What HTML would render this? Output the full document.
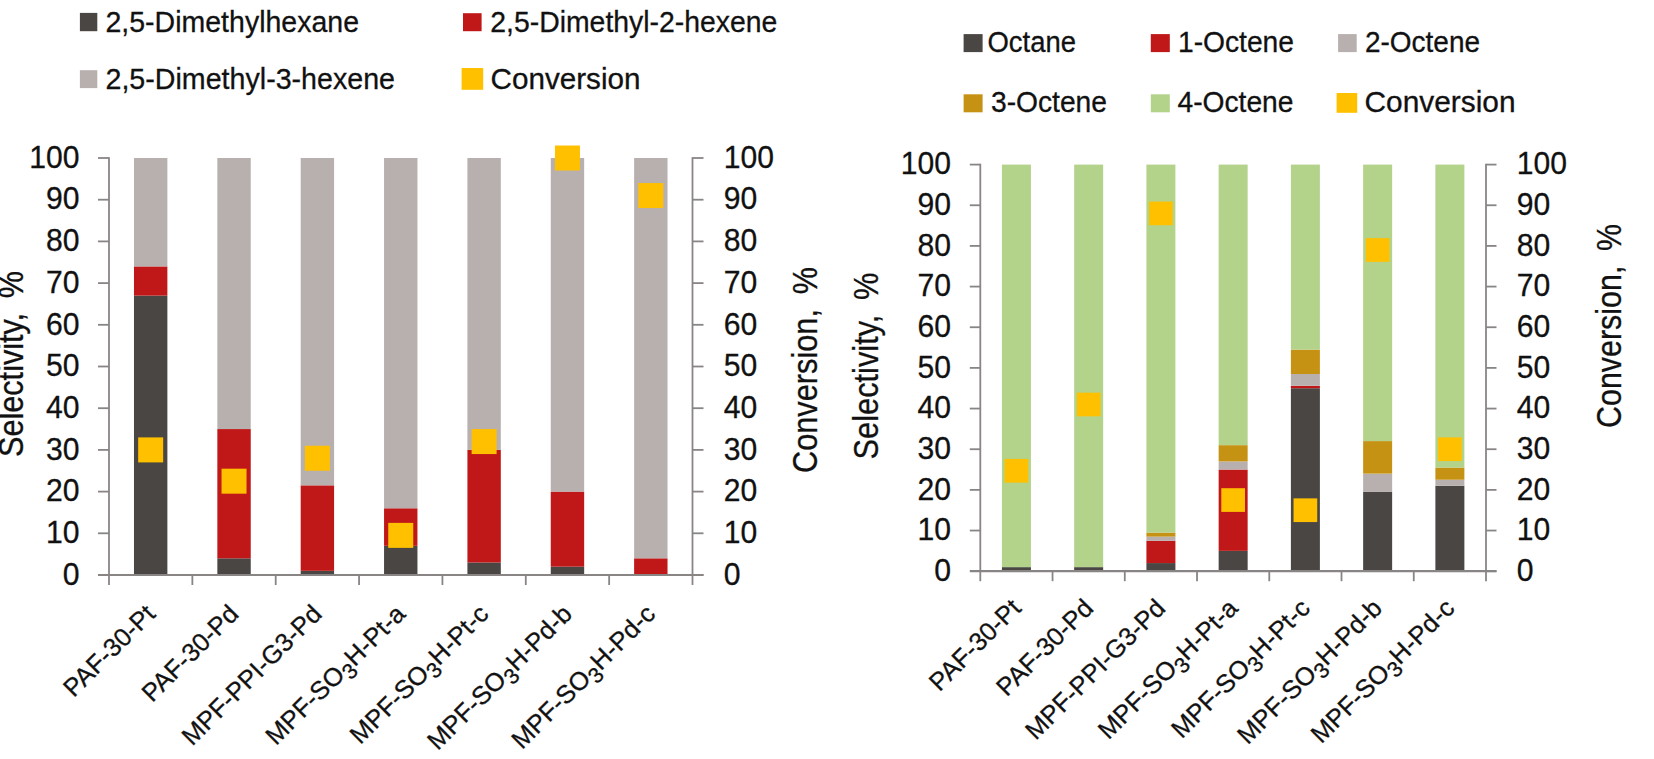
<!DOCTYPE html>
<html><head><meta charset="utf-8"><title>Selectivity and conversion charts</title>
<style>
html,body{margin:0;padding:0;background:#fff;}
body{width:1654px;height:759px;overflow:hidden;}
svg{display:block;font-family:"Liberation Sans", sans-serif;fill:#111;}
text{stroke:#111;stroke-width:0.3px;}
</style></head><body>
<svg width="1654" height="759" viewBox="0 0 1654 759">
<rect x="0" y="0" width="1654" height="759" fill="#ffffff"/>
<rect x="133.98" y="295.61" width="33.40" height="279.39" fill="#4a4644"/>
<rect x="133.98" y="266.42" width="33.40" height="29.19" fill="#c01818"/>
<rect x="133.98" y="158.00" width="33.40" height="108.42" fill="#b8b0ae"/>
<rect x="217.34" y="558.32" width="33.40" height="16.68" fill="#4a4644"/>
<rect x="217.34" y="429.05" width="33.40" height="129.27" fill="#c01818"/>
<rect x="217.34" y="158.00" width="33.40" height="271.05" fill="#b8b0ae"/>
<rect x="300.69" y="570.83" width="33.40" height="4.17" fill="#4a4644"/>
<rect x="300.69" y="485.35" width="33.40" height="85.48" fill="#c01818"/>
<rect x="300.69" y="158.00" width="33.40" height="327.34" fill="#b8b0ae"/>
<rect x="384.05" y="545.81" width="33.40" height="29.19" fill="#4a4644"/>
<rect x="384.05" y="508.28" width="33.40" height="37.53" fill="#c01818"/>
<rect x="384.05" y="158.00" width="33.40" height="350.28" fill="#b8b0ae"/>
<rect x="467.41" y="562.49" width="33.40" height="12.51" fill="#4a4644"/>
<rect x="467.41" y="449.90" width="33.40" height="112.59" fill="#c01818"/>
<rect x="467.41" y="158.00" width="33.40" height="291.90" fill="#b8b0ae"/>
<rect x="550.76" y="566.66" width="33.40" height="8.34" fill="#4a4644"/>
<rect x="550.76" y="491.60" width="33.40" height="75.06" fill="#c01818"/>
<rect x="550.76" y="158.00" width="33.40" height="333.60" fill="#b8b0ae"/>
<rect x="634.12" y="558.32" width="33.40" height="16.68" fill="#c01818"/>
<rect x="634.12" y="158.00" width="33.40" height="400.32" fill="#b8b0ae"/>
<line x1="109.00" y1="157.20" x2="109.00" y2="575.80" stroke="#898584" stroke-width="1.8"/>
<line x1="692.50" y1="157.20" x2="692.50" y2="575.80" stroke="#898584" stroke-width="1.8"/>
<line x1="98.00" y1="575.00" x2="703.50" y2="575.00" stroke="#898584" stroke-width="2.2"/>
<line x1="692.50" y1="575.00" x2="703.50" y2="575.00" stroke="#898584" stroke-width="1.8"/>
<text x="79.5" y="584.7" font-size="31.5" text-anchor="end" textLength="16.8" lengthAdjust="spacingAndGlyphs">0</text>
<text x="723.8" y="584.7" font-size="31.5" text-anchor="start" textLength="16.8" lengthAdjust="spacingAndGlyphs">0</text>
<line x1="98.00" y1="533.30" x2="109.00" y2="533.30" stroke="#898584" stroke-width="1.8"/>
<line x1="692.50" y1="533.30" x2="703.50" y2="533.30" stroke="#898584" stroke-width="1.8"/>
<text x="79.5" y="543.0" font-size="31.5" text-anchor="end" textLength="33.5" lengthAdjust="spacingAndGlyphs">10</text>
<text x="723.8" y="543.0" font-size="31.5" text-anchor="start" textLength="33.5" lengthAdjust="spacingAndGlyphs">10</text>
<line x1="98.00" y1="491.60" x2="109.00" y2="491.60" stroke="#898584" stroke-width="1.8"/>
<line x1="692.50" y1="491.60" x2="703.50" y2="491.60" stroke="#898584" stroke-width="1.8"/>
<text x="79.5" y="501.3" font-size="31.5" text-anchor="end" textLength="33.5" lengthAdjust="spacingAndGlyphs">20</text>
<text x="723.8" y="501.3" font-size="31.5" text-anchor="start" textLength="33.5" lengthAdjust="spacingAndGlyphs">20</text>
<line x1="98.00" y1="449.90" x2="109.00" y2="449.90" stroke="#898584" stroke-width="1.8"/>
<line x1="692.50" y1="449.90" x2="703.50" y2="449.90" stroke="#898584" stroke-width="1.8"/>
<text x="79.5" y="459.59999999999997" font-size="31.5" text-anchor="end" textLength="33.5" lengthAdjust="spacingAndGlyphs">30</text>
<text x="723.8" y="459.59999999999997" font-size="31.5" text-anchor="start" textLength="33.5" lengthAdjust="spacingAndGlyphs">30</text>
<line x1="98.00" y1="408.20" x2="109.00" y2="408.20" stroke="#898584" stroke-width="1.8"/>
<line x1="692.50" y1="408.20" x2="703.50" y2="408.20" stroke="#898584" stroke-width="1.8"/>
<text x="79.5" y="417.9" font-size="31.5" text-anchor="end" textLength="33.5" lengthAdjust="spacingAndGlyphs">40</text>
<text x="723.8" y="417.9" font-size="31.5" text-anchor="start" textLength="33.5" lengthAdjust="spacingAndGlyphs">40</text>
<line x1="98.00" y1="366.50" x2="109.00" y2="366.50" stroke="#898584" stroke-width="1.8"/>
<line x1="692.50" y1="366.50" x2="703.50" y2="366.50" stroke="#898584" stroke-width="1.8"/>
<text x="79.5" y="376.2" font-size="31.5" text-anchor="end" textLength="33.5" lengthAdjust="spacingAndGlyphs">50</text>
<text x="723.8" y="376.2" font-size="31.5" text-anchor="start" textLength="33.5" lengthAdjust="spacingAndGlyphs">50</text>
<line x1="98.00" y1="324.80" x2="109.00" y2="324.80" stroke="#898584" stroke-width="1.8"/>
<line x1="692.50" y1="324.80" x2="703.50" y2="324.80" stroke="#898584" stroke-width="1.8"/>
<text x="79.5" y="334.5" font-size="31.5" text-anchor="end" textLength="33.5" lengthAdjust="spacingAndGlyphs">60</text>
<text x="723.8" y="334.5" font-size="31.5" text-anchor="start" textLength="33.5" lengthAdjust="spacingAndGlyphs">60</text>
<line x1="98.00" y1="283.10" x2="109.00" y2="283.10" stroke="#898584" stroke-width="1.8"/>
<line x1="692.50" y1="283.10" x2="703.50" y2="283.10" stroke="#898584" stroke-width="1.8"/>
<text x="79.5" y="292.8" font-size="31.5" text-anchor="end" textLength="33.5" lengthAdjust="spacingAndGlyphs">70</text>
<text x="723.8" y="292.8" font-size="31.5" text-anchor="start" textLength="33.5" lengthAdjust="spacingAndGlyphs">70</text>
<line x1="98.00" y1="241.40" x2="109.00" y2="241.40" stroke="#898584" stroke-width="1.8"/>
<line x1="692.50" y1="241.40" x2="703.50" y2="241.40" stroke="#898584" stroke-width="1.8"/>
<text x="79.5" y="251.1" font-size="31.5" text-anchor="end" textLength="33.5" lengthAdjust="spacingAndGlyphs">80</text>
<text x="723.8" y="251.1" font-size="31.5" text-anchor="start" textLength="33.5" lengthAdjust="spacingAndGlyphs">80</text>
<line x1="98.00" y1="199.70" x2="109.00" y2="199.70" stroke="#898584" stroke-width="1.8"/>
<line x1="692.50" y1="199.70" x2="703.50" y2="199.70" stroke="#898584" stroke-width="1.8"/>
<text x="79.5" y="209.39999999999998" font-size="31.5" text-anchor="end" textLength="33.5" lengthAdjust="spacingAndGlyphs">90</text>
<text x="723.8" y="209.39999999999998" font-size="31.5" text-anchor="start" textLength="33.5" lengthAdjust="spacingAndGlyphs">90</text>
<line x1="98.00" y1="158.00" x2="109.00" y2="158.00" stroke="#898584" stroke-width="1.8"/>
<line x1="692.50" y1="158.00" x2="703.50" y2="158.00" stroke="#898584" stroke-width="1.8"/>
<text x="79.5" y="167.7" font-size="31.5" text-anchor="end" textLength="50.2" lengthAdjust="spacingAndGlyphs">100</text>
<text x="723.8" y="167.7" font-size="31.5" text-anchor="start" textLength="50.2" lengthAdjust="spacingAndGlyphs">100</text>
<line x1="109.00" y1="575.00" x2="109.00" y2="585.00" stroke="#898584" stroke-width="1.8"/>
<line x1="192.36" y1="575.00" x2="192.36" y2="585.00" stroke="#898584" stroke-width="1.8"/>
<line x1="275.71" y1="575.00" x2="275.71" y2="585.00" stroke="#898584" stroke-width="1.8"/>
<line x1="359.07" y1="575.00" x2="359.07" y2="585.00" stroke="#898584" stroke-width="1.8"/>
<line x1="442.43" y1="575.00" x2="442.43" y2="585.00" stroke="#898584" stroke-width="1.8"/>
<line x1="525.79" y1="575.00" x2="525.79" y2="585.00" stroke="#898584" stroke-width="1.8"/>
<line x1="609.14" y1="575.00" x2="609.14" y2="585.00" stroke="#898584" stroke-width="1.8"/>
<line x1="692.50" y1="575.00" x2="692.50" y2="585.00" stroke="#898584" stroke-width="1.8"/>
<rect x="138.18" y="437.40" width="25.00" height="25.00" fill="#ffc000"/>
<rect x="221.54" y="468.68" width="25.00" height="25.00" fill="#ffc000"/>
<rect x="304.89" y="445.74" width="25.00" height="25.00" fill="#ffc000"/>
<rect x="388.25" y="522.88" width="25.00" height="25.00" fill="#ffc000"/>
<rect x="471.61" y="429.06" width="25.00" height="25.00" fill="#ffc000"/>
<rect x="554.96" y="145.50" width="25.00" height="25.00" fill="#ffc000"/>
<rect x="638.32" y="183.03" width="25.00" height="25.00" fill="#ffc000"/>
<text transform="translate(156.7,615.5) rotate(-45)" font-size="25.5" text-anchor="end">PAF-30-Pt</text>
<text transform="translate(240.0,615.5) rotate(-45)" font-size="25.5" text-anchor="end">PAF-30-Pd</text>
<text transform="translate(323.4,615.5) rotate(-45)" font-size="25.5" text-anchor="end">MPF-PPI-G3-Pd</text>
<text transform="translate(406.8,615.5) rotate(-45)" font-size="25.5" text-anchor="end">MPF-SO<tspan font-size="21.7" dy="6.4">3</tspan><tspan dy="-6.4">H-Pt-a</tspan></text>
<text transform="translate(490.1,615.5) rotate(-45)" font-size="25.5" text-anchor="end">MPF-SO<tspan font-size="21.7" dy="6.4">3</tspan><tspan dy="-6.4">H-Pt-c</tspan></text>
<text transform="translate(573.5,615.5) rotate(-45)" font-size="25.5" text-anchor="end">MPF-SO<tspan font-size="21.7" dy="6.4">3</tspan><tspan dy="-6.4">H-Pd-b</tspan></text>
<text transform="translate(656.8,615.5) rotate(-45)" font-size="25.5" text-anchor="end">MPF-SO<tspan font-size="21.7" dy="6.4">3</tspan><tspan dy="-6.4">H-Pd-c</tspan></text>
<rect x="79.90" y="12.90" width="17.40" height="18.30" fill="#4a4644"/>
<text x="105.5" y="32" font-size="29.5" text-anchor="start" textLength="253.5" lengthAdjust="spacingAndGlyphs">2,5-Dimethylhexane</text>
<rect x="463.00" y="13.20" width="18.60" height="18.00" fill="#c01818"/>
<text x="490.3" y="32" font-size="29.5" text-anchor="start" textLength="287.0" lengthAdjust="spacingAndGlyphs">2,5-Dimethyl-2-hexene</text>
<rect x="79.90" y="70.20" width="17.40" height="17.90" fill="#b8b0ae"/>
<text x="105.5" y="89" font-size="29.5" text-anchor="start" textLength="289.5" lengthAdjust="spacingAndGlyphs">2,5-Dimethyl-3-hexene</text>
<rect x="461.60" y="68.00" width="21.60" height="21.80" fill="#ffc000"/>
<text x="490.5" y="89" font-size="29.5" text-anchor="start" textLength="150.0" lengthAdjust="spacingAndGlyphs">Conversion</text>
<text transform="translate(22.7,457) rotate(-90)" font-size="34.5" textLength="186" lengthAdjust="spacingAndGlyphs">Selectivity,&#160;&#8201;%</text>
<text transform="translate(816.7,473) rotate(-90)" font-size="34.5" textLength="206" lengthAdjust="spacingAndGlyphs">Conversion,&#160;&#8201;%</text>
<rect x="1001.92" y="567.13" width="29.00" height="4.07" fill="#4a4644"/>
<rect x="1001.92" y="164.60" width="29.00" height="402.53" fill="#b3d38a"/>
<rect x="1074.16" y="567.13" width="29.00" height="4.07" fill="#4a4644"/>
<rect x="1074.16" y="164.60" width="29.00" height="402.53" fill="#b3d38a"/>
<rect x="1146.41" y="563.07" width="29.00" height="8.13" fill="#4a4644"/>
<rect x="1146.41" y="540.71" width="29.00" height="22.36" fill="#c01818"/>
<rect x="1146.41" y="536.64" width="29.00" height="4.07" fill="#b8b0ae"/>
<rect x="1146.41" y="532.57" width="29.00" height="4.07" fill="#c69214"/>
<rect x="1146.41" y="164.60" width="29.00" height="367.97" fill="#b3d38a"/>
<rect x="1218.65" y="550.87" width="29.00" height="20.33" fill="#4a4644"/>
<rect x="1218.65" y="469.55" width="29.00" height="81.32" fill="#c01818"/>
<rect x="1218.65" y="461.42" width="29.00" height="8.13" fill="#b8b0ae"/>
<rect x="1218.65" y="445.15" width="29.00" height="16.26" fill="#c69214"/>
<rect x="1218.65" y="164.60" width="29.00" height="280.55" fill="#b3d38a"/>
<rect x="1290.89" y="388.23" width="29.00" height="182.97" fill="#4a4644"/>
<rect x="1290.89" y="385.79" width="29.00" height="2.44" fill="#c01818"/>
<rect x="1290.89" y="374.00" width="29.00" height="11.79" fill="#b8b0ae"/>
<rect x="1290.89" y="349.60" width="29.00" height="24.40" fill="#c69214"/>
<rect x="1290.89" y="164.60" width="29.00" height="185.00" fill="#b3d38a"/>
<rect x="1363.14" y="491.91" width="29.00" height="79.29" fill="#4a4644"/>
<rect x="1363.14" y="473.62" width="29.00" height="18.30" fill="#b8b0ae"/>
<rect x="1363.14" y="441.09" width="29.00" height="32.53" fill="#c69214"/>
<rect x="1363.14" y="164.60" width="29.00" height="276.49" fill="#b3d38a"/>
<rect x="1435.38" y="485.81" width="29.00" height="85.39" fill="#4a4644"/>
<rect x="1435.38" y="479.72" width="29.00" height="6.10" fill="#b8b0ae"/>
<rect x="1435.38" y="467.52" width="29.00" height="12.20" fill="#c69214"/>
<rect x="1435.38" y="164.60" width="29.00" height="302.92" fill="#b3d38a"/>
<line x1="980.30" y1="163.80" x2="980.30" y2="572.00" stroke="#898584" stroke-width="1.8"/>
<line x1="1486.00" y1="163.80" x2="1486.00" y2="572.00" stroke="#898584" stroke-width="1.8"/>
<line x1="969.80" y1="571.20" x2="1496.50" y2="571.20" stroke="#898584" stroke-width="2.2"/>
<line x1="1486.00" y1="571.20" x2="1496.50" y2="571.20" stroke="#898584" stroke-width="1.8"/>
<text x="951" y="580.9" font-size="31.5" text-anchor="end" textLength="16.8" lengthAdjust="spacingAndGlyphs">0</text>
<text x="1516.8" y="580.9" font-size="31.5" text-anchor="start" textLength="16.8" lengthAdjust="spacingAndGlyphs">0</text>
<line x1="969.80" y1="530.54" x2="980.30" y2="530.54" stroke="#898584" stroke-width="1.8"/>
<line x1="1486.00" y1="530.54" x2="1496.50" y2="530.54" stroke="#898584" stroke-width="1.8"/>
<text x="951" y="540.24" font-size="31.5" text-anchor="end" textLength="33.5" lengthAdjust="spacingAndGlyphs">10</text>
<text x="1516.8" y="540.24" font-size="31.5" text-anchor="start" textLength="33.5" lengthAdjust="spacingAndGlyphs">10</text>
<line x1="969.80" y1="489.88" x2="980.30" y2="489.88" stroke="#898584" stroke-width="1.8"/>
<line x1="1486.00" y1="489.88" x2="1496.50" y2="489.88" stroke="#898584" stroke-width="1.8"/>
<text x="951" y="499.58" font-size="31.5" text-anchor="end" textLength="33.5" lengthAdjust="spacingAndGlyphs">20</text>
<text x="1516.8" y="499.58" font-size="31.5" text-anchor="start" textLength="33.5" lengthAdjust="spacingAndGlyphs">20</text>
<line x1="969.80" y1="449.22" x2="980.30" y2="449.22" stroke="#898584" stroke-width="1.8"/>
<line x1="1486.00" y1="449.22" x2="1496.50" y2="449.22" stroke="#898584" stroke-width="1.8"/>
<text x="951" y="458.92" font-size="31.5" text-anchor="end" textLength="33.5" lengthAdjust="spacingAndGlyphs">30</text>
<text x="1516.8" y="458.92" font-size="31.5" text-anchor="start" textLength="33.5" lengthAdjust="spacingAndGlyphs">30</text>
<line x1="969.80" y1="408.56" x2="980.30" y2="408.56" stroke="#898584" stroke-width="1.8"/>
<line x1="1486.00" y1="408.56" x2="1496.50" y2="408.56" stroke="#898584" stroke-width="1.8"/>
<text x="951" y="418.25999999999993" font-size="31.5" text-anchor="end" textLength="33.5" lengthAdjust="spacingAndGlyphs">40</text>
<text x="1516.8" y="418.25999999999993" font-size="31.5" text-anchor="start" textLength="33.5" lengthAdjust="spacingAndGlyphs">40</text>
<line x1="969.80" y1="367.90" x2="980.30" y2="367.90" stroke="#898584" stroke-width="1.8"/>
<line x1="1486.00" y1="367.90" x2="1496.50" y2="367.90" stroke="#898584" stroke-width="1.8"/>
<text x="951" y="377.59999999999997" font-size="31.5" text-anchor="end" textLength="33.5" lengthAdjust="spacingAndGlyphs">50</text>
<text x="1516.8" y="377.59999999999997" font-size="31.5" text-anchor="start" textLength="33.5" lengthAdjust="spacingAndGlyphs">50</text>
<line x1="969.80" y1="327.24" x2="980.30" y2="327.24" stroke="#898584" stroke-width="1.8"/>
<line x1="1486.00" y1="327.24" x2="1496.50" y2="327.24" stroke="#898584" stroke-width="1.8"/>
<text x="951" y="336.94" font-size="31.5" text-anchor="end" textLength="33.5" lengthAdjust="spacingAndGlyphs">60</text>
<text x="1516.8" y="336.94" font-size="31.5" text-anchor="start" textLength="33.5" lengthAdjust="spacingAndGlyphs">60</text>
<line x1="969.80" y1="286.58" x2="980.30" y2="286.58" stroke="#898584" stroke-width="1.8"/>
<line x1="1486.00" y1="286.58" x2="1496.50" y2="286.58" stroke="#898584" stroke-width="1.8"/>
<text x="951" y="296.28" font-size="31.5" text-anchor="end" textLength="33.5" lengthAdjust="spacingAndGlyphs">70</text>
<text x="1516.8" y="296.28" font-size="31.5" text-anchor="start" textLength="33.5" lengthAdjust="spacingAndGlyphs">70</text>
<line x1="969.80" y1="245.92" x2="980.30" y2="245.92" stroke="#898584" stroke-width="1.8"/>
<line x1="1486.00" y1="245.92" x2="1496.50" y2="245.92" stroke="#898584" stroke-width="1.8"/>
<text x="951" y="255.61999999999998" font-size="31.5" text-anchor="end" textLength="33.5" lengthAdjust="spacingAndGlyphs">80</text>
<text x="1516.8" y="255.61999999999998" font-size="31.5" text-anchor="start" textLength="33.5" lengthAdjust="spacingAndGlyphs">80</text>
<line x1="969.80" y1="205.26" x2="980.30" y2="205.26" stroke="#898584" stroke-width="1.8"/>
<line x1="1486.00" y1="205.26" x2="1496.50" y2="205.26" stroke="#898584" stroke-width="1.8"/>
<text x="951" y="214.95999999999998" font-size="31.5" text-anchor="end" textLength="33.5" lengthAdjust="spacingAndGlyphs">90</text>
<text x="1516.8" y="214.95999999999998" font-size="31.5" text-anchor="start" textLength="33.5" lengthAdjust="spacingAndGlyphs">90</text>
<line x1="969.80" y1="164.60" x2="980.30" y2="164.60" stroke="#898584" stroke-width="1.8"/>
<line x1="1486.00" y1="164.60" x2="1496.50" y2="164.60" stroke="#898584" stroke-width="1.8"/>
<text x="951" y="174.29999999999998" font-size="31.5" text-anchor="end" textLength="50.2" lengthAdjust="spacingAndGlyphs">100</text>
<text x="1516.8" y="174.29999999999998" font-size="31.5" text-anchor="start" textLength="50.2" lengthAdjust="spacingAndGlyphs">100</text>
<line x1="980.30" y1="571.20" x2="980.30" y2="581.20" stroke="#898584" stroke-width="1.8"/>
<line x1="1052.54" y1="571.20" x2="1052.54" y2="581.20" stroke="#898584" stroke-width="1.8"/>
<line x1="1124.79" y1="571.20" x2="1124.79" y2="581.20" stroke="#898584" stroke-width="1.8"/>
<line x1="1197.03" y1="571.20" x2="1197.03" y2="581.20" stroke="#898584" stroke-width="1.8"/>
<line x1="1269.27" y1="571.20" x2="1269.27" y2="581.20" stroke="#898584" stroke-width="1.8"/>
<line x1="1341.51" y1="571.20" x2="1341.51" y2="581.20" stroke="#898584" stroke-width="1.8"/>
<line x1="1413.76" y1="571.20" x2="1413.76" y2="581.20" stroke="#898584" stroke-width="1.8"/>
<line x1="1486.00" y1="571.20" x2="1486.00" y2="581.20" stroke="#898584" stroke-width="1.8"/>
<rect x="1004.57" y="458.92" width="23.70" height="23.70" fill="#ffc000"/>
<rect x="1076.81" y="392.64" width="23.70" height="23.70" fill="#ffc000"/>
<rect x="1149.06" y="201.54" width="23.70" height="23.70" fill="#ffc000"/>
<rect x="1221.30" y="488.20" width="23.70" height="23.70" fill="#ffc000"/>
<rect x="1293.54" y="498.36" width="23.70" height="23.70" fill="#ffc000"/>
<rect x="1365.79" y="238.14" width="23.70" height="23.70" fill="#ffc000"/>
<rect x="1438.03" y="437.37" width="23.70" height="23.70" fill="#ffc000"/>
<text transform="translate(1022.4,609.7) rotate(-45)" font-size="25.5" text-anchor="end">PAF-30-Pt</text>
<text transform="translate(1094.7,609.7) rotate(-45)" font-size="25.5" text-anchor="end">PAF-30-Pd</text>
<text transform="translate(1166.9,609.7) rotate(-45)" font-size="25.5" text-anchor="end">MPF-PPI-G3-Pd</text>
<text transform="translate(1239.2,609.7) rotate(-45)" font-size="25.5" text-anchor="end">MPF-SO<tspan font-size="21.7" dy="6.4">3</tspan><tspan dy="-6.4">H-Pt-a</tspan></text>
<text transform="translate(1311.4,609.7) rotate(-45)" font-size="25.5" text-anchor="end">MPF-SO<tspan font-size="21.7" dy="6.4">3</tspan><tspan dy="-6.4">H-Pt-c</tspan></text>
<text transform="translate(1383.6,609.7) rotate(-45)" font-size="25.5" text-anchor="end">MPF-SO<tspan font-size="21.7" dy="6.4">3</tspan><tspan dy="-6.4">H-Pd-b</tspan></text>
<text transform="translate(1455.9,609.7) rotate(-45)" font-size="25.5" text-anchor="end">MPF-SO<tspan font-size="21.7" dy="6.4">3</tspan><tspan dy="-6.4">H-Pd-c</tspan></text>
<rect x="963.60" y="34.10" width="19.00" height="18.00" fill="#4a4644"/>
<text x="987.5" y="51.9" font-size="29" text-anchor="start" textLength="88.5" lengthAdjust="spacingAndGlyphs">Octane</text>
<rect x="1150.80" y="34.10" width="19.00" height="18.00" fill="#c01818"/>
<text x="1178" y="51.9" font-size="29" text-anchor="start" textLength="116.0" lengthAdjust="spacingAndGlyphs">1-Octene</text>
<rect x="1338.10" y="34.10" width="18.60" height="18.00" fill="#b8b0ae"/>
<text x="1365" y="51.9" font-size="29" text-anchor="start" textLength="115.0" lengthAdjust="spacingAndGlyphs">2-Octene</text>
<rect x="963.60" y="94.30" width="19.00" height="18.00" fill="#c69214"/>
<text x="991" y="111.8" font-size="29" text-anchor="start" textLength="116.0" lengthAdjust="spacingAndGlyphs">3-Octene</text>
<rect x="1150.80" y="94.30" width="19.00" height="18.00" fill="#b3d38a"/>
<text x="1177.5" y="111.8" font-size="29" text-anchor="start" textLength="116.0" lengthAdjust="spacingAndGlyphs">4-Octene</text>
<rect x="1336.60" y="93.00" width="20.60" height="19.80" fill="#ffc000"/>
<text x="1364.5" y="112" font-size="29" text-anchor="start" textLength="151.0" lengthAdjust="spacingAndGlyphs">Conversion</text>
<text transform="translate(878.2,459.5) rotate(-90)" font-size="34.5" textLength="187" lengthAdjust="spacingAndGlyphs">Selectivity,&#160;&#8201;%</text>
<text transform="translate(1621.4,428) rotate(-90)" font-size="34.5" textLength="204" lengthAdjust="spacingAndGlyphs">Conversion,&#160;&#8201;%</text>
</svg>
</body></html>
